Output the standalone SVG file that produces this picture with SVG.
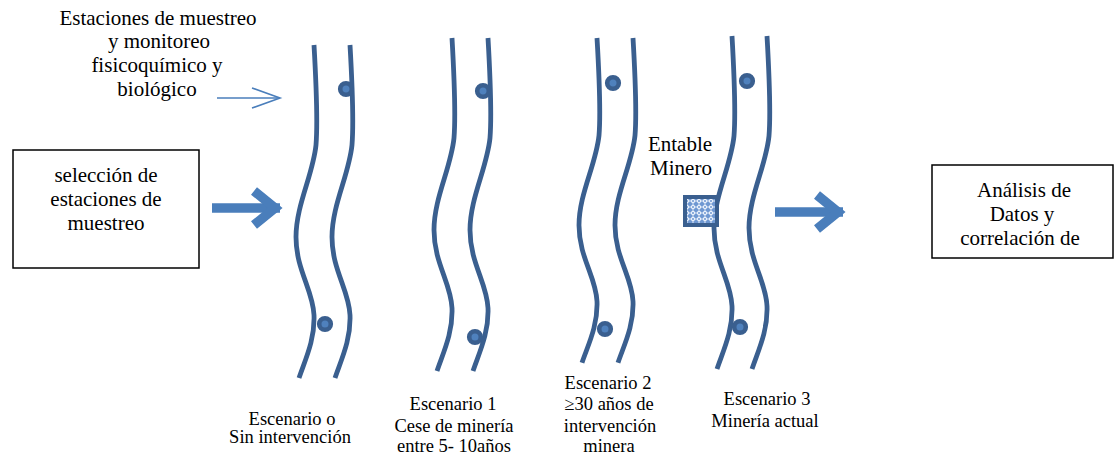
<svg xmlns="http://www.w3.org/2000/svg" width="1115" height="456" viewBox="0 0 1115 456">
<style>
.t{font-family:'Liberation Serif','DejaVu Serif',serif;fill:#000;text-anchor:middle}
.big{font-size:21px}
.sm{font-size:18.5px}
.bank{fill:none;stroke:#3A5F8F;stroke-width:4.8}
.dot{fill:#4F81BD;stroke:#3A5F8F;stroke-width:4.6}
.box{fill:#fff;stroke:#000;stroke-width:1.5}
.thick{fill:none;stroke:#4A7EBB;stroke-width:9.5;stroke-linejoin:miter}
.thin{fill:none;stroke:#4A7EBB;stroke-width:1.6}
</style>
<defs>
<path id="bank" d="M0,0 C2,35 4,75 2,100 C-1,130 -18,160 -18,192 C-18,225 -1,245 0,270 C1,295 -9,315 -15,333"/>
<pattern id="grid" width="6" height="6" patternUnits="userSpaceOnUse">
<rect width="6" height="6" fill="#6F98D2"/>
<path d="M3,0 L6,3 L3,6 L0,3 Z" fill="#EAF1FB"/>
<circle cx="3" cy="3" r="1" fill="#6F98D2"/>
</pattern>
<g id="bigArrow">
<line x1="0" y1="0" x2="68" y2="0" class="thick"/>
<polyline points="42,-17 63,0 42,17" class="thick"/>
</g>
</defs>

<g id="label-estaciones">
<text class="t big" x="158" y="25">Estaciones de muestreo</text>
<text class="t big" x="159" y="48">y monitoreo</text>
<text class="t big" x="157" y="72">fisicoquímico y</text>
<text class="t big" x="157" y="96">biológico</text>
</g>

<g id="box-seleccion">
<rect class="box" x="13" y="150" width="186" height="118"/>
<text class="t big" x="106" y="182">selección de</text>
<text class="t big" x="106" y="206">estaciones de</text>
<text class="t big" x="106" y="230">muestreo</text>
</g>

<g id="box-analisis">
<rect class="box" x="932" y="165" width="181" height="93"/>
<text class="t big" x="1024" y="197">Análisis de</text>
<text class="t big" x="1022" y="221">Datos y</text>
<text class="t big" x="1020" y="245">correlación de</text>
</g>

<g id="escenario0">
<use href="#bank" class="bank" transform="translate(314,45)"/>
<use href="#bank" class="bank" transform="translate(350,45)"/>
<circle class="dot" cx="346" cy="89" r="5.8"/>
<circle class="dot" cx="325" cy="324" r="5.8"/>
<text class="t sm" x="292" y="425">Escenario o</text>
<text class="t sm" x="290" y="443">Sin intervención</text>
</g>

<g id="escenario1">
<use href="#bank" class="bank" transform="translate(452,38)"/>
<use href="#bank" class="bank" transform="translate(488,38)"/>
<circle class="dot" cx="483" cy="91" r="5.8"/>
<circle class="dot" cx="475" cy="337" r="5.8"/>
<text class="t sm" x="453" y="410">Escenario 1</text>
<text class="t sm" x="454" y="432">Cese de minería</text>
<text class="t sm" x="454" y="452">entre 5- 10años</text>
</g>

<g id="escenario2">
<use href="#bank" class="bank" transform="translate(597,38) scale(1,0.975)"/>
<use href="#bank" class="bank" transform="translate(633,38) scale(1,0.975)"/>
<circle class="dot" cx="613" cy="83" r="5.8"/>
<circle class="dot" cx="605" cy="329" r="5.8"/>
<text class="t sm" x="608" y="389">Escenario 2</text>
<text class="t sm" x="609" y="410">≥30 años de</text>
<text class="t sm" x="610" y="432">intervención</text>
<text class="t sm" x="609" y="452">minera</text>
</g>

<g id="escenario3">
<use href="#bank" class="bank" transform="translate(732,36)"/>
<use href="#bank" class="bank" transform="translate(767,36)"/>
<circle class="dot" cx="747" cy="81" r="5.8"/>
<circle class="dot" cx="740" cy="327" r="5.8"/>
<text class="t sm" x="767" y="405">Escenario 3</text>
<text class="t sm" x="765" y="427">Minería actual</text>
</g>

<g id="entable-minero">
<text class="t big" x="680" y="151">Entable</text>
<text class="t big" x="681" y="175">Minero</text>
<rect x="685" y="197" width="32" height="28" fill="url(#grid)" stroke="#3A5F8F" stroke-width="4"/>
</g>

<g id="connectors">
<line class="thin" x1="217" y1="98" x2="279" y2="98"/>
<polyline class="thin" points="252,88 280,98 252,108"/>
<use href="#bigArrow" transform="translate(212,208)"/>
<use href="#bigArrow" transform="translate(775,212)"/>
</g>
</svg>
